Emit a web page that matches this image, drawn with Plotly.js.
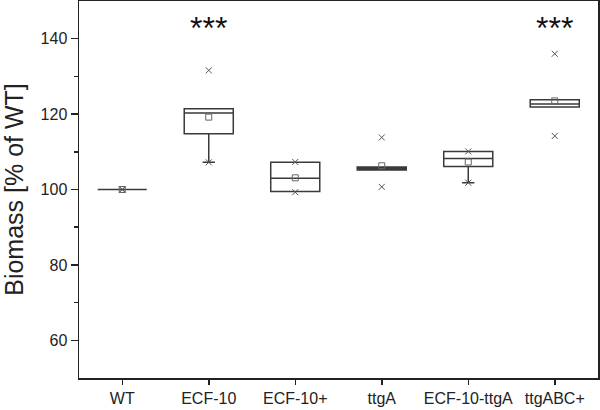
<!DOCTYPE html>
<html>
<head>
<meta charset="utf-8">
<script src="https://cdn.plot.ly/plotly-3.0.1.min.js"></script>
<style>body{margin:0;background:#fff}#chart{width:600px;height:410px}</style>
</head>
<body>
<div id="chart"></div>
<script>
var categories = ["WT", "ECF-10", "ECF-10+", "ttgA", "ECF-10-ttgA", "ttgABC+"];
var q1Values = [100, 114.8, 99.5, 105.2, 106.1, 121.9];
var medianValues = [100, 120.3, 103.0, 105.6, 108.2, 122.7];
var q3Values = [100, 121.4, 107.2, 106.0, 110.1, 123.8];
var lowerWhisker = [100, 107.2, 99.5, 105.2, 101.8, 121.9];
var upperWhisker = [100, 121.4, 107.2, 106.0, 110.1, 123.8];
var meanValues = [100, 119.2, 103.1, 106.3, 107.3, 123.5];
var minValues = [100, 107.2, 99.3, 100.7, 101.8, 114.2];
var maxValues = [100, 131.6, 107.3, 113.8, 110.1, 136.0];
var significance = ["", "***", "", "", "", "***"];
var significanceY = 142.8;

var lineCol = "#3a3a3a";
var boxTrace = {
  type: "box",
  x: categories,
  q1: q1Values,
  median: medianValues,
  q3: q3Values,
  lowerfence: lowerWhisker,
  upperfence: upperWhisker,
  boxpoints: false,
  fillcolor: "rgba(255,255,255,0)",
  line: {color: lineCol, width: 1.5},
  whiskerwidth: 0.25,
  hoverinfo: "skip",
  showlegend: false
};
var extremes = {
  type: "scatter", mode: "markers",
  x: categories.concat(categories),
  y: minValues.concat(maxValues),
  marker: {symbol: "x-thin-open", size: 6, color: "#555", line: {color: "#555", width: 1}},
  showlegend: false
};
var means = {
  type: "scatter", mode: "markers",
  x: categories, y: meanValues,
  marker: {symbol: "square-open", size: 6, color: "#666", line: {color: "#666", width: 1}},
  showlegend: false
};
var annotations = [];
categories.forEach(function (c, i) {
  if (significance[i]) {
    annotations.push({x: c, y: significanceY, xref: "x", yref: "y", text: significance[i],
      showarrow: false, font: {family: "Liberation Sans, Arial, sans-serif", size: 32, color: "#111"}});
  }
});
var layout = {
  width: 600, height: 410,
  margin: {l: 79, r: 2, t: 1, b: 32},
  paper_bgcolor: "#fff", plot_bgcolor: "#fff",
  font: {family: "Liberation Sans, Arial, sans-serif", color: "#222", size: 16},
  boxgap: 0.19,
  xaxis: {
    type: "category", range: [-0.5, 5.5],
    showline: true, mirror: true, linecolor: "#222", linewidth: 1.5,
    ticks: "outside", ticklen: 5, tickwidth: 1.5, tickcolor: "#222",
    showgrid: false, zeroline: false,
    tickfont: {size: 16}
  },
  yaxis: {
    range: [50, 150], tickvals: [60, 80, 100, 120, 140],
    showline: true, mirror: true, linecolor: "#222", linewidth: 1.5,
    ticks: "outside", ticklen: 7, tickwidth: 1.5, tickcolor: "#222",
    minor: {tickvals: [70, 90, 110, 130], ticks: "outside", ticklen: 4, tickwidth: 1.5, tickcolor: "#222", showgrid: false},
    showgrid: false, zeroline: false,
    tickfont: {size: 16},
    title: {text: "Biomass [% of WT]", font: {size: 25}, standoff: 10}
  },
  annotations: annotations
};
Plotly.newPlot("chart", [boxTrace, means, extremes], layout, {staticPlot: true});
</script>
</body>
</html>
